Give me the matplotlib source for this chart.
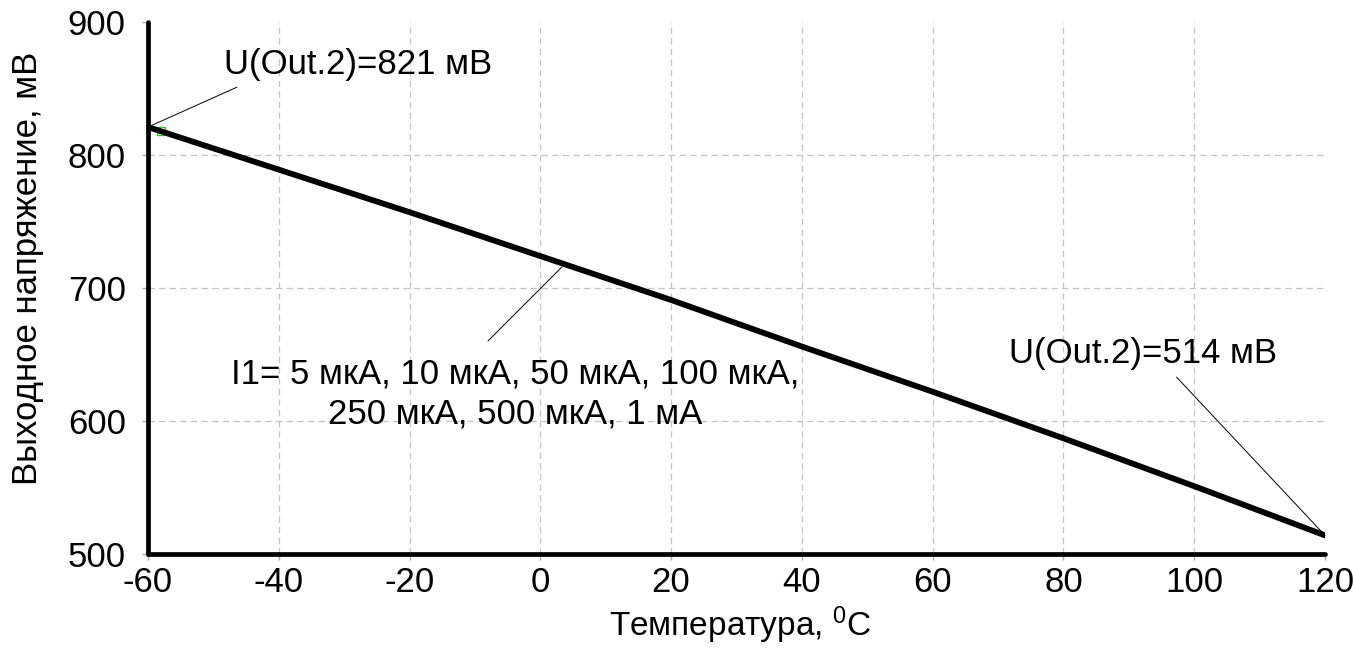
import numpy as np
import matplotlib
matplotlib.use("Agg")
import matplotlib.pyplot as plt

# output voltage vs temperature (all currents give the same curve)
temp = [-60, -40, -20, 0, 20, 40, 60, 80, 100, 120]
u_out = [821, 789, 757, 724, 691, 656, 622, 587, 551, 514]

xticks = [-60, -40, -20, 0, 20, 40, 60, 80, 100, 120]
yticks = [500, 600, 700, 800, 900]

label_start = "U(Out.2)=821 мВ"
label_end = "U(Out.2)=514 мВ"
label_currents = "I1= 5 мкА, 10 мкА, 50 мкА, 100 мкА,\n250 мкА, 500 мкА, 1 мА"

plt.rcParams["font.family"] = ["Liberation Sans", "DejaVu Sans"]
plt.rcParams["mathtext.fontset"] = "custom"
plt.rcParams["mathtext.rm"] = "Liberation Sans"
fs = 25

fig = plt.figure(figsize=(13.53, 6.55), dpi=100)
ax = fig.add_axes([148 / 1353, 1 - 554 / 655, 1177 / 1353, 532 / 655])

ax.set_xlim(-60, 120)
ax.set_ylim(500, 900)

# dashed grid only on inner ticks
grid_kw = dict(color="#c4c4c4", lw=0.9, ls=(0, (5, 3.5)), zorder=0)
for t in xticks[1:-1]:
    ax.axvline(t, **grid_kw)
for t in yticks[1:-1]:
    ax.axhline(t, **grid_kw)

ax.plot([-58], [818], marker="s", ms=6, mfc="none", mec="#33bb33", mew=1, zorder=1)
ax.plot(temp, u_out, color="black", lw=4.2, solid_capstyle="round", zorder=3)

for s in ["top", "right"]:
    ax.spines[s].set_visible(False)
for s in ["left", "bottom"]:
    ax.spines[s].set_linewidth(3.4)
    ax.spines[s].set_capstyle("round")

ax.set_xticks(xticks)
ax.set_yticks(yticks)
ax.set_xticklabels([str(t) for t in xticks])
ax.set_yticklabels([str(t) for t in yticks])
ax.tick_params(axis="both", labelsize=fs, length=4, width=1, color="#aaaaaa")
ax.tick_params(axis="y", pad=12)
ax.tick_params(axis="x", pad=5)

fig.text(28 / 1353, 1 - 268 / 655, "Выходное напряжение, мВ", rotation=90,
         ha="center", va="center", fontsize=fs)
fig.text(740 / 1353, 1 - 625 / 655, r"Температура, $\mathregular{^{0}}$C",
         ha="center", va="center", fontsize=24)

line_kw = dict(arrowstyle="-", color="black", lw=0.7, shrinkA=0, shrinkB=0)
ax.annotate("", xy=(temp[0], u_out[0]), xytext=(-46.4, 851), arrowprops=line_kw)
ax.text(-48.4, 867.7, label_start, fontsize=fs, ha="left", va="center")

ax.annotate("", xy=(temp[-1], u_out[-1]), xytext=(97.3, 633), arrowprops=line_kw)
ax.text(112.6, 650.4, label_end, fontsize=fs, ha="right", va="center")

ax.annotate("", xy=(3.3, 715.8), xytext=(-8.0, 660.2), arrowprops=line_kw)
ax.text(-3.9, 620.3, label_currents, fontsize=fs, ha="center", va="center",
        multialignment="center", linespacing=1.3)

fig.savefig("out.png", dpi=100)
